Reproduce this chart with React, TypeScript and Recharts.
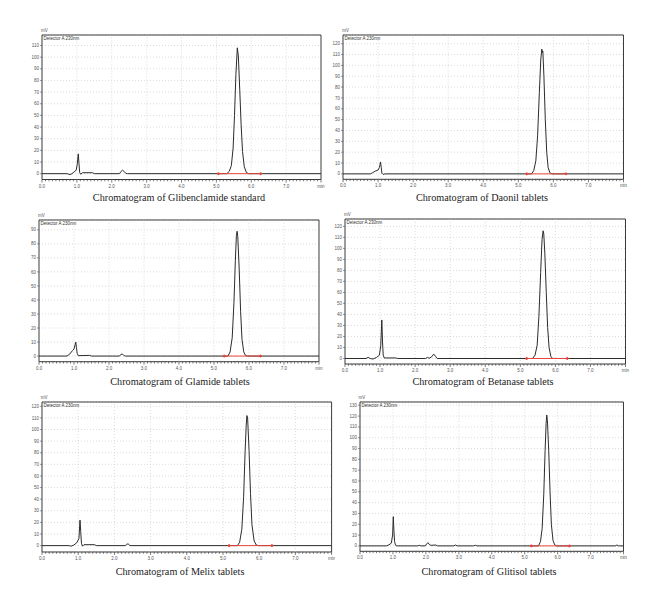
import { LineChart, Line, XAxis, YAxis, CartesianGrid, ReferenceLine, ReferenceArea } from 'recharts';

// retention time (min), signal (mV) pairs
const glibenclamideStandard = [
  [0, 0], [0.72, 0], [0.8, -0.8], [0.86, 0], [0.92, 1.5], [0.98, 3], [1.01, 8], [1.04, 17], [1.06, 9],
  [1.08, 1], [1.11, -0.5], [1.16, 0.8], [1.45, 0.8], [1.5, 0], [2.22, 0], [2.27, 2], [2.31, 3], [2.35, 2],
  [2.4, 0.3], [2.45, 0], [5.3, 0], [5.37, 2], [5.43, 7], [5.48, 22], [5.52, 50], [5.56, 85], [5.6, 108],
  [5.63, 101], [5.67, 72], [5.71, 42], [5.75, 19], [5.8, 6], [5.86, 1], [5.92, 0], [8, 0],
];
const daonilTablets = [
  [0, 0], [0.78, 0], [0.84, 1], [0.92, 2.5], [1.0, 3.5], [1.04, 6], [1.07, 11], [1.09, 6], [1.11, 0.5],
  [1.14, -0.5], [1.2, 0], [5.38, 0], [5.44, 3], [5.5, 12], [5.55, 35], [5.6, 75], [5.64, 105], [5.67, 115],
  [5.69, 112], [5.7, 113], [5.73, 90], [5.77, 50], [5.81, 20], [5.85, 6], [5.9, 1], [5.96, 0], [8, 0],
];
const glamideTablets = [
  [0, 0], [0.8, 0], [0.88, 1.5], [0.96, 4], [1.0, 5], [1.03, 8], [1.05, 10], [1.07, 6], [1.09, 2],
  [1.12, 0.3], [1.45, 0.5], [1.5, 0], [2.3, 0], [2.34, 1.2], [2.38, 1.5], [2.42, 0.5], [2.47, 0],
  [5.4, 0], [5.46, 3], [5.52, 13], [5.57, 38], [5.61, 68], [5.64, 86], [5.66, 89], [5.68, 85], [5.72, 62],
  [5.76, 32], [5.8, 12], [5.85, 3], [5.9, 0.5], [5.96, 0], [8, 0],
];
const betanaseTablets = [
  [0, 0], [0.6, 0], [0.66, 1], [0.72, 0], [0.8, -0.5], [0.9, 1], [0.98, 3], [1.02, 12], [1.05, 35],
  [1.07, 15], [1.09, 3], [1.12, 0.5], [1.45, 0.5], [1.5, 0], [2.3, 0], [2.35, 1], [2.4, 0.2], [2.47, 1.5],
  [2.53, 4], [2.58, 2], [2.63, 0], [5.35, 0], [5.42, 3], [5.48, 12], [5.53, 38], [5.58, 78], [5.62, 108],
  [5.65, 116], [5.67, 113], [5.7, 95], [5.74, 60], [5.78, 28], [5.82, 10], [5.87, 2], [5.92, 0], [8, 0],
];
const melixTablets = [
  [0, 0], [0.75, 0], [0.8, -0.5], [0.88, 0.5], [0.96, 2.5], [1.02, 6], [1.05, 22], [1.07, 12], [1.09, 2],
  [1.12, -0.5], [1.16, 0.8], [1.45, 0.8], [1.5, 0], [2.3, 0], [2.34, 1.2], [2.38, 1.5], [2.43, 0],
  [5.4, 0], [5.46, 3], [5.52, 14], [5.57, 42], [5.61, 80], [5.64, 103], [5.66, 112], [5.68, 110],
  [5.72, 82], [5.76, 45], [5.8, 18], [5.86, 4], [5.92, 0.5], [5.98, 0], [8, 0],
];
const glitisolTablets = [
  [0, 0], [0.8, 0], [0.88, 1], [0.95, 2.5], [0.99, 10], [1.01, 27], [1.03, 14], [1.05, 4], [1.08, 0.5],
  [1.12, 0], [1.75, 0], [1.8, 0.5], [1.85, 0], [1.98, 0], [2.03, 2], [2.06, 3], [2.1, 1.5], [2.15, 0.5],
  [2.3, 0.8], [2.35, 0], [2.85, 0], [2.9, 0.8], [2.95, 0], [3.45, 0], [3.5, 0.6], [3.55, 0], [5.42, 0],
  [5.48, 4], [5.53, 16], [5.58, 48], [5.62, 88], [5.65, 113], [5.67, 121], [5.69, 116], [5.73, 88],
  [5.77, 50], [5.81, 20], [5.86, 5], [5.91, 1], [5.97, 0], [7.75, 0], [7.8, 0.8], [7.85, 0], [8, 0],
];

// integration baseline (start, end) in min
const glibenclamideInteg = [5.06, 6.27];
const daonilInteg = [5.24, 6.36];
const glamideInteg = [5.29, 6.33];
const betanaseInteg = [5.18, 6.34];
const melixInteg = [5.17, 6.35];
const glitisolInteg = [5.2, 6.36];

const TIME_MAJOR = [0, 1, 2, 3, 4, 5, 6, 7, 8];
const TIME_MINOR = Array.from({ length: 81 }, (_, i) => i / 10);
const TICKS_110 = [0, 10, 20, 30, 40, 50, 60, 70, 80, 90, 100, 110];
const TICKS_120 = [0, 10, 20, 30, 40, 50, 60, 70, 80, 90, 100, 110, 120];
const TICKS_130 = [0, 10, 20, 30, 40, 50, 60, 70, 80, 90, 100, 110, 120, 130];
const TICKS_90 = [0, 10, 20, 30, 40, 50, 60, 70, 80, 90];

const PAD_L = 16;
const PAD_R = 4;
const PAD_T = 8;
const PAD_B = 14;
const SANS = '"Liberation Sans", Arial, sans-serif';

const panels = [
  { title: 'Chromatogram of Glibenclamide standard', curve: glibenclamideStandard, integ: glibenclamideInteg,
    left: 42, top: 35, w: 279, h: 144.5, y: [-5, 119], ticks: TICKS_110, tx: 179, ty: 192 },
  { title: 'Chromatogram of Daonil tablets', curve: daonilTablets, integ: daonilInteg,
    left: 343.3, top: 35, w: 280.5, h: 144.3, y: [-5, 128], ticks: TICKS_120, tx: 482, ty: 192 },
  { title: 'Chromatogram of Glamide tablets', curve: glamideTablets, integ: glamideInteg,
    left: 39, top: 220, w: 280, h: 141.7, y: [-4, 97], ticks: TICKS_90, tx: 180, ty: 376 },
  { title: 'Chromatogram of Betanase tablets', curve: betanaseTablets, integ: betanaseInteg,
    left: 345, top: 219.3, w: 280.5, h: 145, y: [-5, 126.7], ticks: TICKS_120, tx: 483, ty: 376 },
  { title: 'Chromatogram of Melix tablets', curve: melixTablets, integ: melixInteg,
    left: 41.7, top: 401.7, w: 289.6, h: 150, y: [-5.5, 123.7], ticks: TICKS_120, tx: 180, ty: 566 },
  { title: 'Chromatogram of Glitisol tablets', curve: glitisolTablets, integ: glitisolInteg,
    left: 359.5, top: 401.7, w: 263.5, h: 149.3, y: [-5, 133], ticks: TICKS_130, tx: 489, ty: 566 },
];

function TimeTick(props: any) {
  const { x, y, payload } = props;
  const v = payload.value;
  const major = Math.abs(v - Math.round(v)) < 1e-6;
  return (
    <g>
      <line x1={x} x2={x} y1={y} y2={y + (major ? 3 : 1.8)} stroke='#444' strokeWidth={0.7} />
      {major && (
        <text x={x} y={y + 8} textAnchor='middle' fontSize={4.5} fill='#555' fontFamily={SANS}>
          {v === 8 ? 'min' : v.toFixed(1)}
        </text>
      )}
    </g>
  );
}

function Panel({ p }: { p: any }) {
  const data = p.curve.map(([t, v]: number[]) => ({ t, v }));
  const integ = p.integ.map((t: number) => ({ t, v: 0 }));
  return (
    <>
      <div style={{ position: 'absolute', left: p.left - PAD_L, top: p.top - PAD_T }}>
        <LineChart
          width={p.w + PAD_L + PAD_R}
          height={p.h + PAD_T + PAD_B}
          margin={{ top: PAD_T, right: PAD_R, left: 0, bottom: 0 }}
        >
          <CartesianGrid vertical={false} stroke='#c4c4c4' strokeDasharray='1 2' strokeWidth={0.6} />
          {TIME_MAJOR.slice(1, -1).map(t => (
            <ReferenceLine key={t} x={t} stroke='#c4c4c4' strokeDasharray='1 2' strokeWidth={0.6} />
          ))}
          <XAxis
            type='number' dataKey='t' domain={[0, 8]} ticks={TIME_MINOR} interval={0}
            tickSize={0} tickMargin={0} axisLine={false} tickLine={false}
            tick={<TimeTick />} height={PAD_B} allowDataOverflow
          />
          <YAxis
            type='number' domain={p.y} ticks={p.ticks} interval={0} width={PAD_L}
            tickSize={2} tickMargin={1} axisLine={false}
            tickLine={{ stroke: '#555', strokeWidth: 0.6 }}
            tick={{ fontSize: 4.5, fill: '#555', fontFamily: SANS }} allowDataOverflow
          />
          <ReferenceArea
            x1={0} x2={8} y1={p.y[0]} y2={p.y[1]} fill='none' stroke='#3a3a3a' strokeWidth={1}
            label={{ value: 'Detector A 230nm', position: 'insideTopLeft', offset: 1.5, fontSize: 4.5, fill: '#333', fontFamily: SANS }}
          />
          <Line
            data={data} dataKey='v' type='linear' stroke='#2b2b2b' strokeWidth={1}
            dot={false} isAnimationActive={false}
          />
          <Line
            data={integ} dataKey='v' type='linear' stroke='#e8453c' strokeWidth={1}
            dot={{ r: 1, fill: '#e8453c', stroke: '#e8453c' }} isAnimationActive={false}
          />
        </LineChart>
      </div>
      <div style={{ position: 'absolute', left: p.left - 1, top: p.top - 7, fontSize: 4.5, color: '#555', fontFamily: SANS }}>
        mV
      </div>
      <div
        style={{
          position: 'absolute', left: p.tx - 150, width: 300, top: p.ty, textAlign: 'center',
          fontFamily: '"Liberation Serif", "Times New Roman", serif', fontSize: 10.2, color: '#222',
        }}
      >
        {p.title}
      </div>
    </>
  );
}

export default function App() {
  return (
    <div style={{ position: 'absolute', left: 0, top: 0, width: 660, height: 608, background: '#fff' }}>
      {panels.map(p => (
        <Panel key={p.title} p={p} />
      ))}
    </div>
  );
}
